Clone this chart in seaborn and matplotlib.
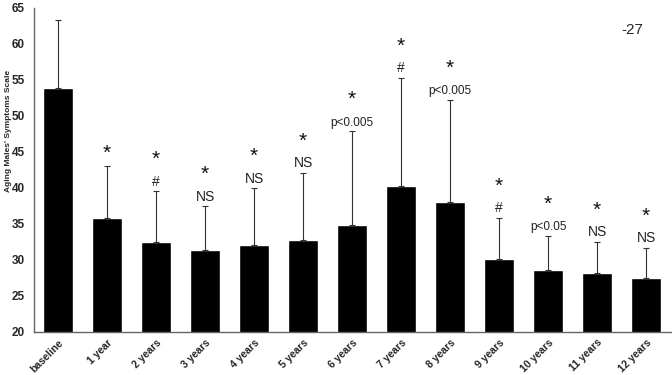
import numpy as np
import pandas as pd
import seaborn as sns

import matplotlib
matplotlib.use('Agg')
import matplotlib.pyplot as plt

# data
periods = ['baseline', '1 year', '2 years', '3 years', '4 years', '5 years', '6 years',
           '7 years', '8 years', '9 years', '10 years', '11 years', '12 years']
ams_mean = [53.8, 35.8, 32.5, 31.4, 32.1, 32.7, 34.8, 40.2, 38.0, 30.1, 28.6, 28.2, 27.5]
ams_sd = [9.5, 7.2, 7.0, 6.0, 7.8, 9.4, 13.0, 15.0, 14.2, 5.7, 4.7, 4.3, 4.1]
star_marks = ['', '*', '*', '*', '*', '*', '*', '*', '*', '*', '*', '*', '*']
sig_labels = ['', '', '#', 'NS', 'NS', 'NS', 'p<0.005', '#', 'p<0.005', '#', 'p<0.05', 'NS', 'NS']

df = pd.DataFrame({'period': periods, 'ams': ams_mean})

sns.set_style('white')
plt.rcParams['font.family'] = ['Liberation Sans', 'DejaVu Sans']

fig, ax = plt.subplots(figsize=(6.72, 3.75), dpi=100)
sns.barplot(data=df, x='period', y='ams', color='black', width=0.6,
            saturation=1, ax=ax)

xs = np.arange(len(periods))
ax.errorbar(xs, ams_mean, yerr=[np.zeros(len(xs)), ams_sd], fmt='none',
            ecolor='#333333', elinewidth=0.8, capsize=2, capthick=0.8)

# significance marks above each error bar
for x, m, s, star, lab in zip(xs, ams_mean, ams_sd, star_marks, sig_labels):
    top = m + s
    if lab:
        ax.annotate(lab, (x, top), xytext=(0, 2), textcoords='offset points',
                    ha='center', va='bottom', fontsize=8.5 if lab.startswith('p') else 10,
                    color='#222222')
        star_off = 16
    else:
        star_off = 2
    if star:
        ax.annotate(star, (x, top), xytext=(0, star_off), textcoords='offset points',
                    ha='center', va='bottom', fontsize=15, color='#111111')

ax.text(0.94, 0.93, '-27', transform=ax.transAxes, fontsize=11, ha='center', va='center')

ax.set_ylim(20, 65)
ax.set_yticks(range(20, 66, 5))
ax.set_xlim(-0.5, len(periods) - 0.5)
ax.set_xticks(xs)
ax.set_xticklabels(periods, rotation=45, ha='right', rotation_mode='anchor',
                   fontsize=7.5, fontweight='bold')
ax.set_xticks(np.arange(-0.5, len(periods)), minor=True)
ax.tick_params(axis='x', which='major', length=0, pad=4)
ax.tick_params(axis='x', which='minor', length=4, color='#555555', direction='out')
ax.tick_params(axis='y', length=3, color='#555555', labelsize=8.5, direction='out')
for t in ax.get_yticklabels():
    t.set_fontweight('bold')

ax.set_xlabel('')
ax.set_ylabel("Aging Males' Symptoms Scale", fontsize=6, fontweight='bold')
ax.yaxis.set_label_coords(-0.034, 0.62)
sns.despine(ax=ax)
for sp in ['left', 'bottom']:
    ax.spines[sp].set_color('#666666')
    ax.spines[sp].set_linewidth(1)

fig.subplots_adjust(left=0.05, right=0.998, top=0.98, bottom=0.115)
plt.savefig('out.png', dpi=100)
plt.close()
